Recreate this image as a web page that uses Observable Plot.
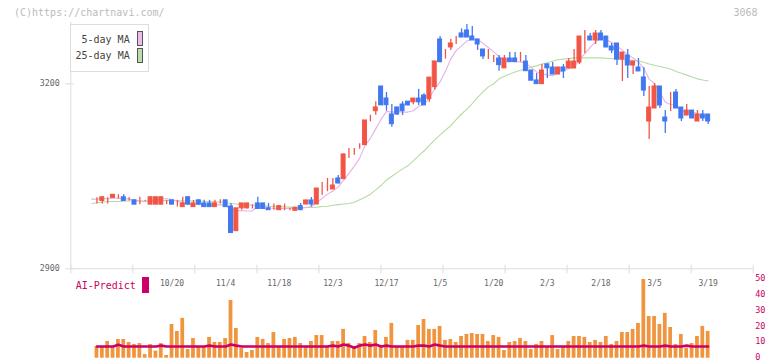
<!DOCTYPE html>
<html><head><meta charset="utf-8">
<script src="https://cdn.jsdelivr.net/npm/d3@7"></script>
<script src="https://cdn.jsdelivr.net/npm/@observablehq/plot@0.6"></script>
<style>
body{margin:0;background:#fff;}
#wrap{position:relative;width:772px;height:361px;overflow:hidden;font-family:"DejaVu Sans Mono",monospace;}
#top,#bot{position:absolute;left:0;}
#top{top:0;} #bot{top:270px;}
.t{position:absolute;white-space:pre;font-size:10px;line-height:10px;}
.sw{position:absolute;box-sizing:border-box;}
</style></head><body>
<div id="wrap">
  <div id="top"></div>
  <div id="bot"></div>
  <div class="t" style="left:14px;top:7.7px;color:#bbb;">(C)https://chartnavi.com/</div>
  <div class="t" style="left:733.5px;top:7.7px;color:#bbb;">3068</div>
  <div class="sw" style="left:70px;top:24px;width:79px;height:48px;border:1px solid #ddd;background:#fff;"></div>
  <div class="t" style="left:81.5px;top:35.2px;color:#444;">5-day MA</div>
  <div class="t" style="left:75.5px;top:51.2px;color:#444;">25-day MA</div>
  <div class="sw" style="left:136.5px;top:31.3px;width:6.5px;height:14.8px;border:1px solid #555;background:#eebbee;"></div>
  <div class="sw" style="left:136.5px;top:48.3px;width:6.5px;height:15px;border:1px solid #555;background:#bbddaa;"></div>
  <div class="t" style="left:75.7px;top:281.2px;color:#cc0066;">AI-Predict</div>
  <div class="sw" style="left:142px;top:277.3px;width:7px;height:15.7px;background:#cc0066;"></div>
</div>
<script>
// ---- price data (trading day index 0..115) ----
const opens = [
3016,3011,3010,3010,3015,3015,3016,3010,3011,3010,
3010,3004,3004,3004,3010,3011,3001,3000,3016,3000,
3011,3006,3006,3000,3010,3011,3001,2961,2998,2998,
3001.5,3006,3006,2998,2999,2995,2996.7,2996,2994,3001.6,
3004.3,3010.8,3004.3,3030.2,3030,3028.6,3046.5,3045.4,3085.4,3088,
3100.5,3100.5,3143.7,3155.6,3195.6,3176.2,3150.2,3161.6,3166.4,3171,
3170,3176,3181,3175,3194.6,3271.9,3255.6,3258.9,3276.7,3281.6,
3286.4,3276.7,3271.9,3255.6,3241,3240,3241,3225,3241,3241,
3236,3236,3221.5,3205.4,3199.4,3231.5,3226.4,3215,3226.4,3224.8,
3224.8,3234.5,3276.6,3276.6,3270.2,3281.5,3276.6,3260.4,3265.3,3239.3,
3245.8,3229.6,3226.4,3210.2,3138.8,3159.9,3195.6,3145.3,3171.3,3185.8,
3161.5,3148.5,3156.6,3138.8,3150.2,3150.2];
const highs = [
3016,3015,3016,3015,3020,3020,3020,3015,3011,3016,
3011,3016,3016,3016,3011,3011,3011,3016,3016,3011,
3012,3011,3011,3011,3012,3011,3006,2998,3006,3006,
3004,3016,3006,3006,3005,3002,3005,2998,3000,3006,
3011,3015.6,3030.2,3040,3046.5,3046.5,3051.3,3086,3095,3095,
3102.7,3140.5,3149,3170.8,3195.6,3185.9,3166.4,3161.6,3170.8,3171,
3176,3191,3184,3210,3236.2,3276.7,3255.6,3272,3276.7,3289,
3296,3293,3271.9,3255.6,3255.6,3246,3246,3246,3250.8,3250.8,
3250.8,3246,3221.5,3216.8,3231.3,3231.5,3234.6,3226.4,3231.2,3241,
3255.6,3276.6,3286.4,3281.5,3286.4,3286.4,3276.6,3265.3,3265.3,3250.7,
3255.6,3236,3241,3226.4,3195.6,3200.4,3195.6,3156.7,3185.8,3190.7,
3161.5,3166.4,3156.6,3156.6,3156.6,3150.2];
const lows = [
3016,3005,3005,3005,3015,3013,3010,3010,3004,3004,
3009,3004,3004,3004,3004,3004,3000,3000,3004,3000,
3004,3000,3000,3000,3005,3000,2958,2961,2995,2997,
2997,2996,2997,2995,2995,2995,2994,2994,2994,2995,
3004,3000.5,3004,3019.4,3025,3028.6,3038,3045,3079,3084,
3094,3100,3138.3,3149,3165,3155.6,3129.7,3148.6,3148.6,3164,
3166,3164.8,3164.8,3170,3190,3234,3240,3254,3263.7,3275,
3275,3270,3254,3239.4,3239.4,3234.6,3220.5,3225,3235,3235,
3235,3220.4,3205,3199.4,3199.4,3208.6,3215,3215,3208.5,3224.8,
3224.8,3231.2,3249,3270.2,3263.7,3270.2,3258.8,3249,3229.6,3203.7,
3208.5,3215,3220,3179.4,3109.6,3159.9,3159.9,3119.4,3155,3159.9,
3138.8,3148.5,3143.7,3138.8,3138.8,3134];
const closes = [
3016,3011,3016,3010,3020,3015,3010,3010,3004,3010,
3010,3016,3016,3016,3010,3004,3001,3006,3004,3006,
3004,3000,3000,3006,3010,3000,2958,2998,3006,3006,
3001.5,2997,2997,2995,2999,3001.6,2996.7,2996,2999,2995,
3010.8,3004.3,3030.2,3030.2,3030,3035.1,3038.3,3085.4,3085.4,3088,
3100.5,3140.5,3143.7,3161.6,3165,3165.4,3134.5,3150.2,3155.6,3165,
3176,3170,3165,3210,3236.2,3235,3255.6,3265.3,3276.7,3275,
3275,3270.2,3263.7,3244.3,3241,3240,3230.2,3241,3235,3235,
3236,3220.4,3205,3199.4,3221.5,3225,3215,3226.4,3220,3236,
3236,3276.6,3276.6,3270.2,3281.5,3270.2,3258.8,3254,3239.3,3250.7,
3229.6,3236,3220,3189,3161.5,3195.6,3164.8,3138.8,3171.3,3159.9,
3143.7,3156.6,3143.7,3150.2,3143.7,3138.8];
const ma5 = [
3013,3013,3013.5,3013.5,3014.6,3014.4,3014.2,3013,3011.8,3009.8,
3008.8,3010,3011.2,3013.6,3013.6,3012.4,3009.4,3007.4,3005,3004.2,
3004.2,3004,3002.8,3003.2,3004,3003.2,2994.8,2994.4,2994.4,2993.6,
2993.9,3001.7,3001.5,2999.3,2997.9,2997.9,2997.9,2997.7,2998.5,2997.7,
2999.5,3001,3007.9,3014.1,3021.1,3026,3032.8,3043.8,3054.8,3066.4,
3079.5,3100,3111.6,3126.9,3142.3,3155.2,3154,3155.3,3154.1,3154.1,
3156.3,3163.4,3166.3,3177.2,3191.4,3203.2,3220.3,3240.4,3253.7,3261.5,
3269.5,3272.4,3272.1,3265.6,3258.8,3251.8,3243.8,3239.3,3237.4,3236.2,
3235.4,3233.5,3226.3,3219.2,3216.5,3214.3,3213.2,3217.5,3221.6,3224.5,
3226.7,3239,3249,3259.1,3268.2,3275,3271.5,3266.9,3260.8,3254.6,
3246.5,3241.9,3235.1,3225.1,3207.2,3200.4,3186.2,3169.9,3166.4,3166.1,
3155.7,3154.1,3155,3150.8,3147.6,3146.6];
const ma25 = [
3006,3007,3008,3009,3009,3009,3009.5,3010,3010,3010,
3010,3010,3010,3010.5,3010.5,3010.5,3010.5,3010,3010,3010,
3010,3009.5,3009,3008.5,3008,3007.5,3006,3005,3004.5,3004,
3003,3002.5,3002,3001.5,3001,3001,3000.5,3000,2999.5,2999.5,
2999.5,2999.5,3000,3001,3001.5,3003,3004,3005,3006,3008,
3012,3016,3021,3028,3035,3044,3050,3056,3062,3067,
3075,3083,3091,3100,3109,3117,3125,3132,3142,3151,
3159,3168,3178,3187,3195,3200,3208,3212,3216,3219,
3222,3224,3227,3229,3232,3234,3237,3239,3240,3241,
3242,3242,3242,3242,3242,3242,3241.5,3241,3239.5,3239,
3238.5,3238,3237,3235,3232,3230,3228,3226,3224,3220,
3217,3214,3211,3208,3206,3204.5];

// ---- AI-Predict panel (days 1..115) ----
const predictBars = [
7.4,7.4,10.6,7.4,11.9,11.9,10,8.7,9.3,2.3,
8.7,4.5,9.3,1.7,21.4,17,25.3,5.5,12.5,7.4,
7.4,13.2,10,10,12.5,36.7,18.9,6.2,3.6,4.9,
13.2,11.9,9.3,16.3,7.4,11.9,12.5,13.2,9.3,7.4,
10.6,14.4,14.4,7.4,10.6,10.6,18.3,9.3,7.4,9.3,
13.8,10,17.6,7.4,13.2,22.1,7.4,7.4,11.3,11.3,
20.8,24.6,18.3,18.3,20.2,11.3,11.9,10,13.8,15.1,
15.7,15.1,15.1,10.6,14.4,13.2,4.9,10,10.6,12.5,
10.6,5.5,8.7,10.6,7.4,14.4,5.5,7.4,10.6,13.8,
13.8,13.2,10,11.3,10,13.8,8.7,10.6,16.3,16.3,
18.3,22.1,50,26.5,26.5,21.4,28.5,19.5,8.7,15.1,
6.2,9.3,13.8,20.2,17];
const predictLine = [
7.4,7.4,7.4,7.4,8.6,7.4,7.4,7.4,7.4,7.4,
7.4,7.4,8,7.4,7.4,7.4,7.4,7.4,7.4,7.4,
7.4,8,7.4,7.4,7.4,8.7,8,7.4,7.4,7.4,
7.4,7.4,7.4,7.4,7.4,7.4,7.4,7.4,7.4,7.4,
7.4,7.4,7.4,7.4,8,7.4,8.7,8,6.6,8,
8.7,8,8.7,7.4,8,7.4,7.4,7.4,7.4,7.4,
8,8,7.4,8.7,8,7.4,7.4,7.4,7.4,7.4,
7.4,7.4,7.4,7.4,7.4,7.4,7.4,7.4,7.4,7.4,
7.4,7.4,7.4,7.4,7.4,7.4,7.4,7.4,7.4,7.4,
7.4,7.4,7.4,7.4,7.4,7.4,7.4,7.4,7.4,7.4,
7.4,7.4,8,7.4,7.4,7.4,8,7.4,7.4,7.4,
8,7.4,7.4,7.4,7.4];

// ---- axis labels ----
const dateLabels = ["10/20","11/4","11/18","12/3","12/17","1/5","1/20","2/3","2/18","3/5","3/19"];
const labelDays = [15,25,35,45,55,65,75,85,95,105,115];
const priceTicks = [2900, 3200];
const predictTicks = [0,10,20,30,40,50];

// ---- styling ----
const RED = "#f25545", BLUE = "#4178f0", PINK = "#e8b0e8", GREEN = "#b5dba5";
const ORANGE = "#f0953f", CRIMSON = "#cc0066", GRID = "#dddddd";
const xDomain = [-3.88, 123.4];
const pxDay = 5.36, pxPrice = 0.6167;

const candles = opens.map((o, i) => ({i, open: o, high: highs[i], low: lows[i], close: closes[i],
  col: closes[i] >= o ? RED : BLUE}));
const maRows = ma5.map((v, i) => ({i, ma5: v, ma25: ma25[i]}));
const gridTicks = d3.range(12).map(k => xDomain[0] + k * (xDomain[1] - xDomain[0]) / 11);

const topPlot = Plot.plot({
  width: 772, height: 300,
  marginLeft: 70.3, marginRight: 19.3, marginTop: 21.6, marginBottom: 31.7,
  x: {domain: xDomain, axis: null},
  y: {domain: [2900, 3300], axis: null},
  color: {type: "identity"},
  style: {fontFamily: "DejaVu Sans Mono, monospace", fontSize: "8px", color: "#666", background: "transparent"},
  marks: [
    Plot.ruleX([xDomain[0]], {stroke: GRID}),
    Plot.ruleY([2900], {stroke: GRID}),
    Plot.ruleX(gridTicks, {x: d => d, y1: 2900 - 5 / pxPrice, y2: 2900 + 3.6 / pxPrice, stroke: GRID}),
    Plot.ruleY(priceTicks, {y: d => d, x1: xDomain[0] - 5 / pxDay, x2: xDomain[0] + 3.4 / pxDay, stroke: GRID}),
    Plot.text(priceTicks, {x: xDomain[0], y: d => d, text: d => String(d), dx: -11, textAnchor: "end",
      lineAnchor: "middle", fill: "#666", fontSize: 8.3}),
    Plot.text(labelDays, {x: d => d, y: 2900, text: (d, k) => dateLabels[k], dy: 14.2,
      textAnchor: "middle", lineAnchor: "middle", fill: "#666", fontSize: 8}),
    Plot.line(maRows, {x: "i", y: "ma25", stroke: GREEN, strokeWidth: 1.1}),
    Plot.line(maRows, {x: "i", y: "ma5", stroke: PINK, strokeWidth: 1.1}),
    Plot.ruleX(candles, {x: "i", y1: "low", y2: "high", stroke: "col", strokeWidth: 1.3}),
    Plot.rect(candles, {x1: d => d.i - 0.37, x2: d => d.i + 0.37, y1: "open", y2: "close",
      fill: "col", stroke: "col", strokeWidth: 1})
  ]
});
document.getElementById("top").appendChild(topPlot);

const predRows = predictBars.map((v, k) => ({i: k + 1, v, ai: predictLine[k]}));
const botPlot = Plot.plot({
  width: 772, height: 91,
  marginLeft: 70.3, marginRight: 19.3, marginTop: 9, marginBottom: 3.3,
  x: {domain: xDomain, axis: null},
  y: {domain: [0, 50], axis: null},
  style: {fontFamily: "DejaVu Sans Mono, monospace", fontSize: "9px", background: "transparent"},
  marks: [
    Plot.rectY(predRows, {x1: d => d.i - 0.35, x2: d => d.i + 0.35, y: "v", fill: ORANGE}),
    Plot.line(predRows, {x: "i", y: "ai", stroke: CRIMSON, strokeWidth: 2.6}),
    Plot.text(predictTicks, {x: xDomain[1], y: d => d, text: d => String(d), dx: 2, dy: -0.8,
      textAnchor: "start", lineAnchor: "middle", fill: CRIMSON, fontSize: 8.5})
  ]
});
document.getElementById("bot").appendChild(botPlot);
</script>
</body></html>
